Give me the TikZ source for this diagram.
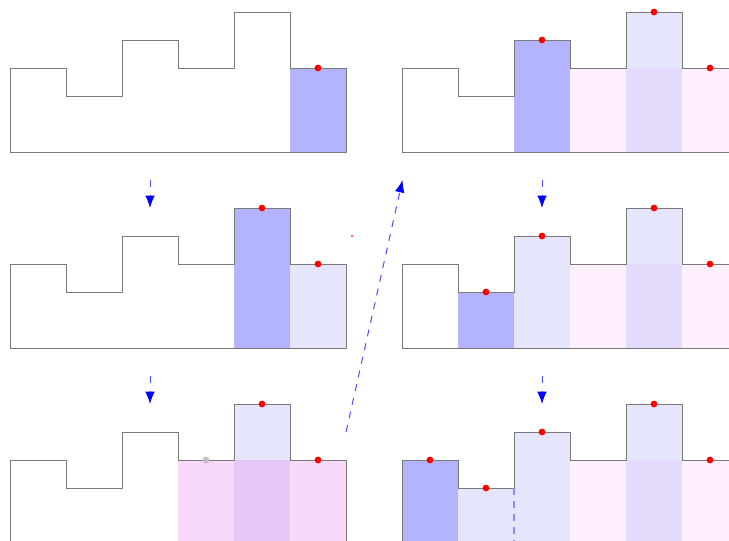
\documentclass[tikz,border=0pt]{standalone}
\usetikzlibrary{arrows.meta}
\definecolor{dkblue}{HTML}{B3B3FF}
\definecolor{ltblue}{HTML}{E5E5FC}
\definecolor{pinkc}{HTML}{F9D9F9}
\definecolor{purpc}{HTML}{E6C8F8}
\definecolor{lpink}{HTML}{FDF0FC}
\definecolor{mauve}{HTML}{E4DBFC}
\tikzset{
  outline/.style={draw=black!52, line width=0.5pt, line join=miter},
  reddot/.style={fill=red},
  graydot/.style={fill=black!25},
  steparrow/.style={draw=blue!70, line width=0.5pt, dash pattern=on 3.5pt off 4pt,
    -{Latex[length=6.2pt,width=4.8pt,color=blue]}},
  jumparrow/.style={draw=blue!70, line width=0.5pt, dash pattern=on 3.5pt off 3.5pt,
    -{Latex[length=6.2pt,width=4.8pt,color=blue]}},
  guide/.style={draw=blue!45, line width=0.6pt, dash pattern=on 3.5pt off 3pt},
  panel/.style={x=14pt, y=14pt}
}
\newcommand\histoline{%
  \path[outline] (0,0) -- (0,3) -- (2,3) -- (2,2) -- (4,2) -- (4,4) -- (6,4) -- (6,3)
     -- (8,3) -- (8,5) -- (10,5) -- (10,3) -- (12,3) -- (12,0) -- cycle;}
\newcommand\dotat[2][reddot]{\fill[#1] (#2) circle (1.7pt);}
\newcommand\rightbase{%
  \fill[lpink] (6,0) rectangle (12,3);
  \fill[mauve] (8,0) rectangle (10,3);
  \fill[ltblue] (8,3) rectangle (10,5);}
\begin{document}
\begin{tikzpicture}[x=0.5pt, y=-0.5pt]
\useasboundingbox (0,0) rectangle (729,541);
\clip (0,0) rectangle (729,541);
% Panel A
\begin{scope}[shift={(10,152)}, panel]
  \fill[dkblue] (10,0) rectangle (12,3);
  \histoline
  \dotat{11,3}
\end{scope}
% Panel B
\begin{scope}[shift={(10,348)}, panel]
  \fill[dkblue] (8,0) rectangle (10,5);
  \fill[ltblue] (10,0) rectangle (12,3);
  \histoline
  \dotat{9,5}
  \dotat{11,3}
\end{scope}
\fill[red] (352,236) circle (0.5pt);
% Panel C
\begin{scope}[shift={(10,544)}, panel]
  \fill[pinkc] (6,0) rectangle (12,3);
  \fill[purpc] (8,0) rectangle (10,3);
  \fill[ltblue] (8,3) rectangle (10,5);
  \histoline
  \dotat[graydot]{7,3}
  \dotat{9,5}
  \dotat{11,3}
\end{scope}
% Panel D
\begin{scope}[shift={(402,152)}, panel]
  \rightbase
  \fill[dkblue] (4,0) rectangle (6,4);
  \histoline
  \dotat{5,4}
  \dotat{9,5}
  \dotat{11,3}
\end{scope}
% Panel E
\begin{scope}[shift={(402,348)}, panel]
  \rightbase
  \fill[dkblue] (2,0) rectangle (4,2);
  \fill[ltblue] (4,0) rectangle (6,4);
  \histoline
  \dotat{3,2}
  \dotat{5,4}
  \dotat{9,5}
  \dotat{11,3}
\end{scope}
% Panel F
\begin{scope}[shift={(402,544)}, panel]
  \rightbase
  \fill[dkblue] (0,0) rectangle (2,3);
  \fill[ltblue] (2,0) rectangle (4,2);
  \fill[ltblue] (4,0) rectangle (6,4);
  \histoline
  \coordinate (gtop) at (4,2);
  \coordinate (gbot) at (4,0);
  \path[guide] (gtop) -- (gbot);
  \dotat{1,3}
  \dotat{3,2}
  \dotat{5,4}
  \dotat{9,5}
  \dotat{11,3}
\end{scope}
% Arrows
\coordinate (a1s) at (150,180); \coordinate (a1e) at (150,208);
\coordinate (a2s) at (150,376); \coordinate (a2e) at (150,404);
\coordinate (a3s) at (542,180); \coordinate (a3e) at (542,208);
\coordinate (a4s) at (542,376); \coordinate (a4e) at (542,404);
\coordinate (js) at (346,432); \coordinate (je) at (402.5,180);
\path[steparrow] (a1s) -- (a1e);
\path[steparrow] (a2s) -- (a2e);
\path[steparrow] (a3s) -- (a3e);
\path[steparrow] (a4s) -- (a4e);
\path[jumparrow] (js) -- (je);
\end{tikzpicture}
\end{document}
